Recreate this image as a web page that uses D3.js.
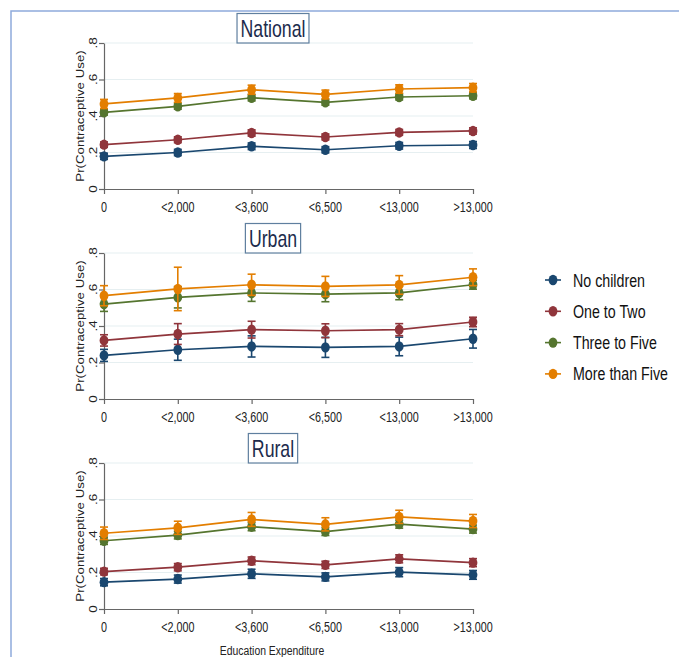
<!DOCTYPE html>
<html><head><meta charset="utf-8">
<script src="https://cdn.jsdelivr.net/npm/d3@7"></script>
<style>body{margin:0;background:#fff}svg{display:block}text{font-family:"Liberation Sans",Arial,sans-serif}</style>
</head><body><svg id="c" width="679" height="657"></svg>
<script>
const categories = ["0", "<2,000", "<3,600", "<6,500", "<13,000", ">13,000"];
const seriesNames = ["No children", "One to Two", "Three to Five", "More than Five"];
const seriesColors = ["#1a476f", "#90353b", "#55752f", "#e37e00"];
const panelTitles = ["National", "Urban", "Rural"];
const yTicks = [0, 0.2, 0.4, 0.6, 0.8];

// mean predicted probabilities [series][category]
const nationalMean = [
  [0.179, 0.200, 0.234, 0.215, 0.237, 0.241],
  [0.243, 0.270, 0.307, 0.285, 0.310, 0.318],
  [0.420, 0.453, 0.500, 0.475, 0.504, 0.511],
  [0.466, 0.499, 0.544, 0.518, 0.548, 0.555]
];
const nationalCI = [
  [0.017, 0.017, 0.018, 0.017, 0.018, 0.019],
  [0.015, 0.016, 0.017, 0.016, 0.016, 0.017],
  [0.015, 0.016, 0.017, 0.016, 0.016, 0.017],
  [0.025, 0.024, 0.025, 0.024, 0.023, 0.023]
];
const urbanMean = [
  [0.239, 0.270, 0.288, 0.283, 0.288, 0.330],
  [0.321, 0.356, 0.380, 0.374, 0.380, 0.422],
  [0.520, 0.557, 0.581, 0.575, 0.581, 0.626],
  [0.566, 0.603, 0.626, 0.617, 0.625, 0.667]
];
const urbanCI = [
  [0.033, 0.058, 0.058, 0.055, 0.051, 0.051],
  [0.031, 0.057, 0.046, 0.038, 0.033, 0.026],
  [0.040, 0.058, 0.046, 0.042, 0.037, 0.024],
  [0.055, 0.119, 0.058, 0.055, 0.051, 0.046]
];
const ruralMean = [
  [0.147, 0.164, 0.193, 0.176, 0.202, 0.187],
  [0.205, 0.229, 0.264, 0.242, 0.275, 0.254],
  [0.374, 0.405, 0.451, 0.424, 0.465, 0.438],
  [0.415, 0.445, 0.491, 0.464, 0.505, 0.482]
];
const ruralCI = [
  [0.020, 0.022, 0.025, 0.022, 0.025, 0.024],
  [0.018, 0.020, 0.021, 0.020, 0.022, 0.022],
  [0.020, 0.021, 0.022, 0.021, 0.022, 0.022],
  [0.034, 0.036, 0.038, 0.036, 0.036, 0.036]
];

const panels = [
  {title: panelTitles[0], mean: nationalMean, ci: nationalCI, top: 43},
  {title: panelTitles[1], mean: urbanMean, ci: urbanCI, top: 253},
  {title: panelTitles[2], mean: ruralMean, ci: ruralCI, top: 463}
];

const SX = 0.77; // horizontal text compression seen in reference
const svg = d3.select("#c");

// outer frame
svg.append("rect").attr("x", 11).attr("y", 11).attr("width", 700).attr("height", 700)
  .attr("fill", "none").attr("stroke", "#8eaadb").attr("stroke-width", 1.5);

const x = d3.scalePoint().domain(categories).range([104, 473]);
const PH = 146;

function sText(g, px, py, txt, size, anchor, rot, fill) {
  const t = g.append("text")
    .attr("transform", `translate(${px},${py}) scale(${SX},1)` + (rot ? ` rotate(${rot})` : ""))
    .attr("text-anchor", anchor).attr("font-size", size).attr("fill", fill || "#222").text(txt);
  return t;
}

panels.forEach(p => {
  const g = svg.append("g");
  const y = d3.scaleLinear().domain([0, 0.8]).range([p.top + PH, p.top]);

  // gridlines
  g.selectAll("line.grid").data(yTicks.filter(d => d > 0)).join("line")
    .attr("x1", x.range()[0]).attr("x2", x.range()[1])
    .attr("y1", d => y(d)).attr("y2", d => y(d))
    .attr("stroke", "#e6eff1").attr("stroke-width", 1.2);

  // axes
  const xa = g.append("g").attr("transform", `translate(0,${p.top + PH})`)
    .call(d3.axisBottom(x).tickSize(5).tickSizeOuter(0).tickFormat(""));
  const ya = g.append("g").attr("transform", `translate(${x.range()[0]},0)`)
    .call(d3.axisLeft(y).tickValues(yTicks).tickSize(5).tickSizeOuter(0).tickFormat(""));
  [xa, ya].forEach(a => {
    a.select(".domain").attr("stroke", "#666").attr("stroke-width", 1.2);
    a.selectAll(".tick line").attr("stroke", "#666").attr("stroke-width", 1.2);
  });

  // tick labels
  categories.forEach(c => sText(g, x(c), p.top + PH + 23, c, 14, "middle", 0));
  yTicks.forEach(t => sText(g, 97, y(t), t === 0 ? "0" : d3.format(".1f")(t).replace(/^0/, ""), 13.5, "middle", -90));
  sText(g, 84, p.top + PH / 2, "Pr(Contraceptive Use)", 13.3, "middle", -90);

  // title box sized to its text
  const box = g.append("rect");
  const tt = sText(g, 273, p.top - 6.5, p.title, 23, "middle", 0, "#1c2b4c");
  const w = tt.node().getBBox().width * SX + 7;
  box.attr("x", 273 - w / 2).attr("y", p.top - 29.5).attr("width", w).attr("height", 29.5)
    .attr("fill", "#fff").attr("stroke", "#5f7f9f").attr("stroke-width", 1.2);

  // series
  p.mean.forEach((vals, si) => {
    const col = seriesColors[si];
    const pts = vals.map((v, i) => ({c: categories[i], v, e: p.ci[si][i]}));
    g.append("path").datum(pts)
      .attr("d", d3.line().x(d => x(d.c)).y(d => y(d.v)))
      .attr("fill", "none").attr("stroke", col).attr("stroke-width", 1.7);
    const eb = g.selectAll(null).data(pts).join("g").attr("stroke", col).attr("stroke-width", 1.6);
    eb.append("line").attr("x1", d => x(d.c)).attr("x2", d => x(d.c))
      .attr("y1", d => y(d.v - d.e)).attr("y2", d => y(d.v + d.e));
    eb.append("line").attr("x1", d => x(d.c) - 4).attr("x2", d => x(d.c) + 4)
      .attr("y1", d => y(d.v + d.e)).attr("y2", d => y(d.v + d.e));
    eb.append("line").attr("x1", d => x(d.c) - 4).attr("x2", d => x(d.c) + 4)
      .attr("y1", d => y(d.v - d.e)).attr("y2", d => y(d.v - d.e));
    g.selectAll(null).data(pts).join("ellipse")
      .attr("cx", d => x(d.c)).attr("cy", d => y(d.v)).attr("rx", 4.4).attr("ry", 5.2)
      .attr("fill", col);
  });
});

sText(svg, 272, 655, "Education Expenditure", 13.5, "middle", 0);

// legend
const leg = svg.append("g");
seriesNames.forEach((n, i) => {
  const ly = 280 + i * 31.3;
  leg.append("line").attr("x1", 545).attr("x2", 561).attr("y1", ly).attr("y2", ly)
    .attr("stroke", seriesColors[i]).attr("stroke-width", 1.6);
  leg.append("ellipse").attr("cx", 553).attr("cy", ly).attr("rx", 4.4).attr("ry", 5.2).attr("fill", seriesColors[i]);
  sText(leg, 573, ly + 6.5, n, 18.5, "start", 0, "#111");
});
</script></body></html>
